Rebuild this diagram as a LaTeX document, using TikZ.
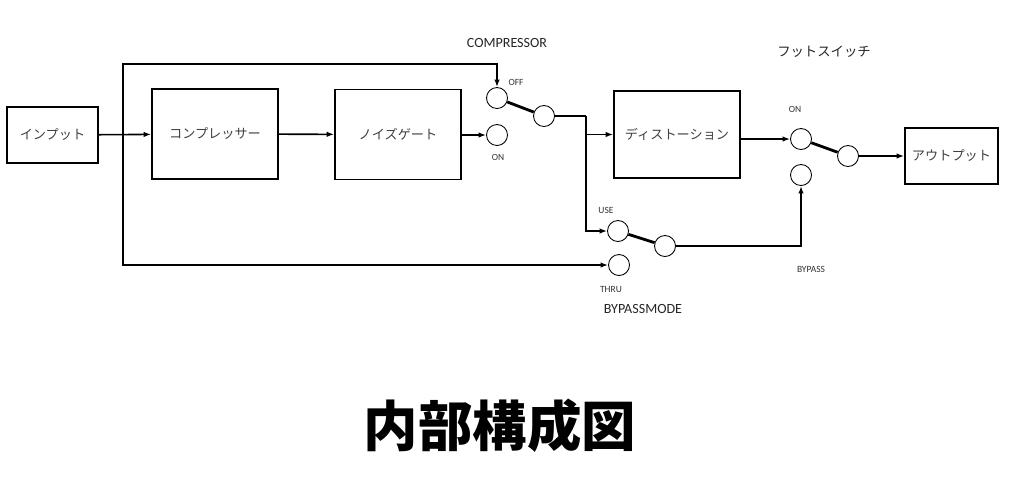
\documentclass[tikz,border=0pt]{standalone}
\usepackage{fontspec}
\setmainfont{Carlito}
\newfontfamily\jp{Noto Sans CJK JP}
\usetikzlibrary{arrows.meta}
\usetikzlibrary{shapes}

\begin{document}
\begin{tikzpicture}[x=0.02cm,y=-0.02cm]
\tikzstyle{block}=[rectangle,draw,line width=1pt,font=\jp\fontsize{7.5}{9}\selectfont,text=black!75]
\tikzstyle{pole}=[circle,draw,line width=0.5pt,inner sep=0pt,minimum size=0.42cm]
\tikzstyle{wire}=[line width=0.9pt]
\tikzstyle{sig}=[wire,-{Latex[length=1.5mm,width=1.1mm]}]
\tikzstyle{lever}=[line width=1.6pt]
\tikzstyle{tag}=[font=\fontsize{5.4}{6}\selectfont,text=black!80]
\tikzstyle{head}=[font=\fontsize{8}{9}\selectfont,text=black!85]
\useasboundingbox (0,0) rectangle (1024,488);
% blocks
\node[block,minimum width=1.82cm,minimum height=1.12cm] (in) at (52.5,135) {インプット};
\node[block,minimum width=2.52cm,minimum height=1.8cm] (comp) at (215,134) {コンプレッサー};
\node[block,minimum width=2.52cm,minimum height=1.8cm] (gate) at (398,134.5) {ノイズゲート};
\node[block,minimum width=2.52cm,minimum height=1.74cm] (dist) at (677,134.5) {ディストーション};
\node[block,minimum width=1.86cm,minimum height=1.12cm] (out) at (951.5,156) {アウトプット};
% switches
\node[pole] (coff) at (497,98) {};
\node[pole] (con) at (497,135) {};
\node[pole] (ccom) at (544,116) {};
\node[pole] (fon) at (801,139) {};
\node[pole] (fcom) at (848,156) {};
\node[pole] (fby) at (801,175) {};
\node[pole] (use) at (618,231) {};
\node[pole] (bcom) at (665,246) {};
\node[pole] (thru) at (619,265) {};
% labels
\node[head] (lcomp) at (507,43) {COMPRESSOR};
\node[head] (lmode) at (643,309) {BYPASSMODE};
\node[head,font=\jp\fontsize{7.6}{9}\selectfont] (lfoot) at (824,52) {フットスイッチ};
\node[tag] (loff) at (516,82) {OFF};
\node[tag] (lon) at (498,157) {ON};
\node[tag] (lfon) at (795,109) {ON};
\node[tag] (lby) at (811,269) {BYPASS};
\node[tag] (luse) at (606,210) {USE};
\node[tag] (lthru) at (611,289) {THRU};
\node[font=\jp\bfseries\fontsize{31}{34}\selectfont] (title) at (500,426) {内部構成図};
% wiring
\coordinate (tap) at (123,135);
\coordinate (tl) at (123,64);
\coordinate (bl) at (123,265);
\coordinate (cj) at (586,116);
\draw[sig] (in) -- (comp);
\draw[sig] (comp) -- (gate);
\draw[sig] (gate.east |- con) -- (con);
\draw[sig] (tap) -- (tl) -| (coff);
\draw[sig] (tap) -- (bl) -- (thru);
\draw[wire] (ccom) -- (cj);
\draw[sig] (cj) |- (use);
\draw[sig] (cj |- dist.west) -- (dist.west);
\draw[sig] (dist.east |- fon) -- (fon);
\draw[sig] (fcom) -- (out);
\draw[sig] (bcom) -| (fby);
\draw[lever] (coff) -- (ccom);
\draw[lever] (fon) -- (fcom);
\draw[lever] (use) -- (bcom);
\end{tikzpicture}
\end{document}
